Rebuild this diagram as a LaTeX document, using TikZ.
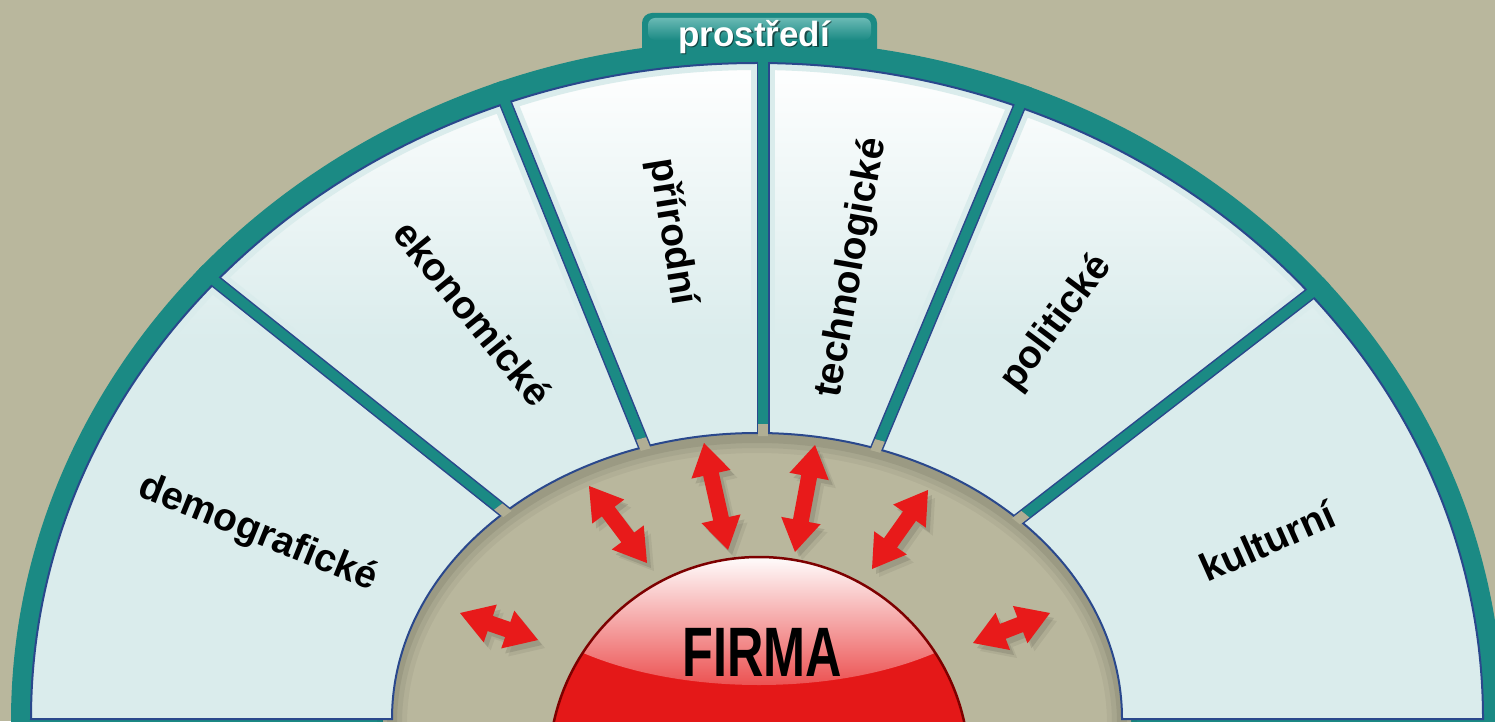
\documentclass[tikz,border=0pt]{standalone}
\usepackage{fontspec}
\setmainfont{Liberation Sans}
\usetikzlibrary{calc}
\definecolor{bgtan}{RGB}{185,183,157}
\definecolor{gaptan}{RGB}{176,174,148}
\definecolor{teal1}{RGB}{27,138,132}
\definecolor{tealtop}{RGB}{105,185,180}
\definecolor{panel}{RGB}{218,236,236}
\definecolor{edgeblue}{RGB}{42,72,140}
\definecolor{firmared}{RGB}{228,24,24}
\definecolor{rimred}{RGB}{125,0,0}
\definecolor{glossred}{RGB}{236,82,82}
\definecolor{arrowred}{RGB}{232,26,26}
\newcommand{\panelpath}{(31,2) arc[start angle=180, end angle=0, x radius=726pt, y radius=656pt] -- (1122,2) arc[start angle=0, end angle=180, x radius=365pt, y radius=286pt] -- cycle}
\newcommand{\dblarrow}[2]{%
 \fill (#1) -- ($(#1)!32pt!(#2)!20pt!90:(#2)$) -- ($(#1)!32pt!(#2)!8pt!90:(#2)$)
   -- ($(#2)!32pt!(#1)!8pt!-90:(#1)$) -- ($(#2)!32pt!(#1)!20pt!-90:(#1)$) -- (#2)
   -- ($(#2)!32pt!(#1)!20pt!90:(#1)$) -- ($(#2)!32pt!(#1)!8pt!90:(#1)$)
   -- ($(#1)!32pt!(#2)!8pt!-90:(#2)$) -- ($(#1)!32pt!(#2)!20pt!-90:(#2)$) -- cycle;}
\begin{document}
\begin{tikzpicture}[x=1pt,y=1pt,
  lbl/.style={font=\fontsize{39}{45}\selectfont\bfseries, text=black, inner sep=0pt},
  gapline/.style={line width=10pt}]
\useasboundingbox (0,0) rectangle (1495,721);
\clip (0,0) rectangle (1495,721);
\fill[bgtan] (0,0) rectangle (1495,721);
% outer teal ring
\fill[teal1] (757,0) ellipse [x radius=746pt, y radius=681pt];
% tab
\fill[teal1, rounded corners=10pt] (642,660) rectangle (877,708);
\shade[top color=tealtop, bottom color=teal1, rounded corners=7pt] (648,681) rectangle (871,703);
% inner tan region
\fill[bgtan] (757,0) ellipse [x radius=374pt, y radius=297pt];
\foreach \w/\o in {30/0.04,20/0.05,10/0.07}
  {\draw[black, opacity=\o, line width=\w pt] (757,-3) ellipse [x radius=365pt, y radius=286pt];}
% divider coordinates
\coordinate (d1a) at (500,213); \coordinate (d1b) at (210,444);
\coordinate (d2a) at (643,278); \coordinate (d2b) at (505,619);
\coordinate (d3a) at (763,288); \coordinate (d3b) at (763,659);
\coordinate (d4a) at (878,276); \coordinate (d4b) at (1020,616);
\coordinate (d5a) at (1023,205); \coordinate (d5b) at (1306,424);
% panels
\begin{scope}
  \clip \panelpath;
  \fill[panel] (0,0) rectangle (1495,721);
  \shade[top color=white, bottom color=panel] (0,380) rectangle (1495,660);
  \draw[panel, line width=14pt] (757,2) ellipse [x radius=726pt, y radius=656pt];
  \foreach \d in {1,...,5}{
    \draw[panel, line width=24pt] ($(d\d a)!-0.2!(d\d b)$) -- ($(d\d a)!1.2!(d\d b)$);
    \draw[edgeblue, line width=13pt] ($(d\d a)!-0.2!(d\d b)$) -- ($(d\d a)!1.2!(d\d b)$);
  }
\end{scope}
\draw[edgeblue, line width=2pt] \panelpath;
% gaps: teal outer part
\begin{scope}[even odd rule]
  \clip (757,0) ellipse [x radius=746pt, y radius=681pt] (757,0) ellipse [x radius=374pt, y radius=297pt];
  \foreach \d in {1,...,5}
    {\draw[teal1, gapline] ($(d\d a)!-0.2!(d\d b)$) -- ($(d\d a)!1.2!(d\d b)$);}
\end{scope}
% gaps: tan inner part (only between panel edge and tan boundary)
\begin{scope}[even odd rule]
  \clip (757,0) ellipse [x radius=374pt, y radius=297pt] (757,2) ellipse [x radius=362pt, y radius=283pt];
  \foreach \d in {1,...,5}
    {\draw[gaptan, gapline] ($(d\d a)!-0.2!(d\d b)$) -- ($(d\d a)!1.2!(d\d b)$);}
\end{scope}
% tab text
\node[font=\fontsize{35}{40}\selectfont\bfseries, text=black, opacity=0.5, inner sep=0pt] (envsh) at (755.5,682.5) {prostředí};
\node[font=\fontsize{35}{40}\selectfont\bfseries, text=white, inner sep=0pt] (env) at (754,684) {prostředí};
% panel labels
\node[lbl, rotate=-22] (demo) at (258,187) {demografické};
\node[lbl, rotate=-51] (eko) at (473,408) {ekonomické};
\node[lbl, rotate=-81] (prir) at (672,489) {přírodní};
\node[lbl, rotate=80] (tech) at (852,453) {technologické};
\node[lbl, rotate=53] (pol) at (1057,398) {politické};
\node[lbl, rotate=24] (kult) at (1267,180) {kulturní};
% arrows
\coordinate (a1a) at (460,108); \coordinate (a1b) at (538,81);
\coordinate (a2a) at (589,235); \coordinate (a2b) at (647,158);
\coordinate (a3a) at (704,278); \coordinate (a3b) at (728,171);
\coordinate (a4a) at (815,276); \coordinate (a4b) at (795,169);
\coordinate (a5a) at (928,231); \coordinate (a5b) at (872,152);
\coordinate (a6a) at (1050,108); \coordinate (a6b) at (973,78);
\begin{scope}[transform canvas={xshift=7pt,yshift=-8pt}, black, opacity=0.06]
  \foreach \i in {1,...,6} {\dblarrow{a\i a}{a\i b}}
\end{scope}
\begin{scope}[transform canvas={xshift=4pt,yshift=-5pt}, black, opacity=0.10]
  \foreach \i in {1,...,6} {\dblarrow{a\i a}{a\i b}}
\end{scope}
\begin{scope}[arrowred]
  \foreach \i in {1,...,6} {\dblarrow{a\i a}{a\i b}}
\end{scope}
% dome
\fill[firmared] (759,-46) circle [radius=210pt];
\begin{scope}
  \clip (759,-46) circle [radius=210pt];
  \clip (759,161) ellipse [x radius=263pt, y radius=125pt];
  \shade[top color=white, bottom color=glossred] (540,36) rectangle (980,166);
\end{scope}
\draw[rimred, line width=2.5pt] (759,-46) circle [radius=210pt];
\node[font=\fontsize{70}{80}\selectfont\bfseries, xscale=0.72, inner sep=0pt] (firma) at (762,69) {FIRMA};
\end{tikzpicture}
\end{document}
